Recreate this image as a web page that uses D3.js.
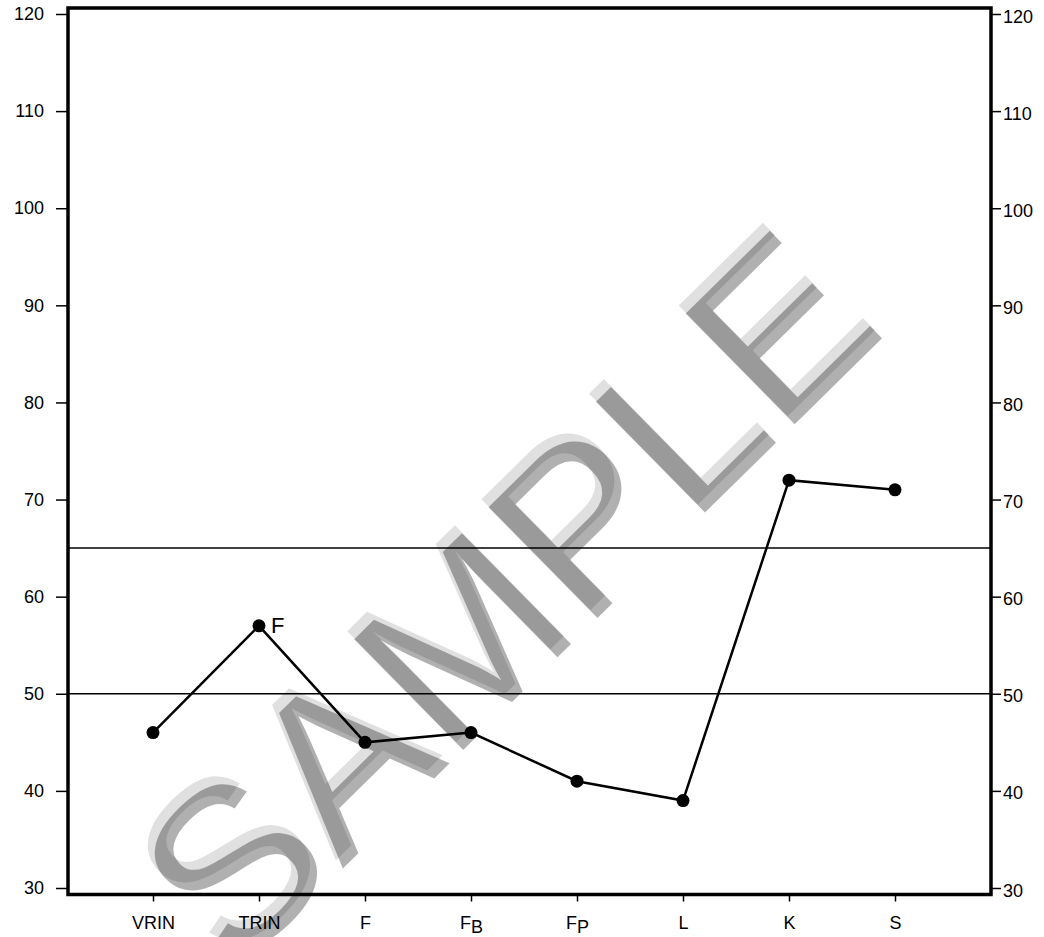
<!DOCTYPE html>
<html>
<head>
<meta charset="utf-8">
<script src="https://cdn.jsdelivr.net/npm/d3@7"></script>
<style>
  body { margin: 0; background: #fff; }
  svg { display: block; font-family: "Liberation Sans", Arial, Helvetica, sans-serif; }
</style>
</head>
<body>
<div id="chart"></div>
<script>
// scale names, label subscripts and scores
const scales = ["VRIN", "TRIN", "F", "FB", "FP", "L", "K", "S"]
const labelMain = ["VRIN", "TRIN", "F", "F", "F", "L", "K", "S"]
const labelSub = ["", "", "", "B", "P", "", "", ""]
const scores = [46, 57, 45, 46, 41, 39, 72, 71]
const yTicks = [30, 40, 50, 60, 70, 80, 90, 100, 110, 120]
const refLines = [65, 50]
const flagged = [{ scale: "TRIN", text: "F" }]

const width = 1044
const height = 937
const frame = { left: 68, right: 991, top: 8, bottom: 894.5 }

const svg = d3.select("#chart")
    .append("svg")
    .attr("width", width)
    .attr("height", height)

const x = d3.scalePoint()
    .domain(scales)
    .range([153, 895])

const y = d3.scaleLinear()
    .domain([30, 120])
    .range([888, 14])

// reference lines
svg.selectAll(".ref")
    .data(refLines)
    .join("line")
    .attr("x1", frame.left)
    .attr("x2", frame.right)
    .attr("y1", d => y(d))
    .attr("y2", d => y(d))
    .attr("stroke", "#000")
    .attr("stroke-width", 1.5)

// profile line and points
const line = d3.line()
    .x((d, i) => x(scales[i]))
    .y(d => y(d))

svg.append("path")
    .datum(scores)
    .attr("d", line)
    .attr("fill", "none")
    .attr("stroke", "#000")
    .attr("stroke-width", 2.5)

svg.selectAll(".pt")
    .data(scores)
    .join("circle")
    .attr("cx", (d, i) => x(scales[i]))
    .attr("cy", d => y(d))
    .attr("r", 6.5)
    .attr("fill", "#000")

svg.selectAll(".flag")
    .data(flagged)
    .join("text")
    .attr("x", d => x(d.scale) + 12)
    .attr("y", d => y(scores[scales.indexOf(d.scale)]) + 7)
    .attr("font-size", 22)
    .text(d => d.text)

// axes
const left = svg.append("g")
    .attr("transform", `translate(${frame.left},0)`)
    .call(d3.axisLeft(y).tickValues(yTicks).tickSize(12).tickPadding(12))

const right = svg.append("g")
    .attr("transform", `translate(${frame.right},0)`)
    .call(d3.axisRight(y).tickValues(yTicks).tickSize(10).tickPadding(2))
right.selectAll("text").attr("dy", "0.45em")

const bottom = svg.append("g")
    .attr("transform", `translate(0,${frame.bottom})`)
    .call(d3.axisBottom(x).tickSize(7).tickPadding(15).tickFormat(""))

bottom.selectAll(".tick text").each(function (d, i) {
    const t = d3.select(this)
    t.text(labelMain[i])
    if (labelSub[i]) {
        t.append("tspan").attr("dy", 4).text(labelSub[i])
    }
})

for (const g of [left, right, bottom]) {
    g.select(".domain").remove()
    g.selectAll("line").attr("stroke", "#000").attr("stroke-width", 1.5)
    g.selectAll("text")
        .attr("font-size", 18)
        .attr("fill", "#000")
        .attr("font-family", "Liberation Sans, Arial, Helvetica, sans-serif")
}

// frame
svg.append("rect")
    .attr("x", frame.left)
    .attr("y", frame.top)
    .attr("width", frame.right - frame.left)
    .attr("height", frame.bottom - frame.top)
    .attr("fill", "none")
    .attr("stroke", "#000")
    .attr("stroke-width", 3.5)

// watermark
const marks = [
    { dx: -7, dy: -8, opacity: 0.12 },
    { dx: 0, dy: 0, opacity: 0.31 }
]
svg.selectAll(".wm")
    .data(marks)
    .join("text")
    .attr("transform", d => `translate(${562 + d.dx},${653 + d.dy}) rotate(-44.5)`)
    .attr("text-anchor", "middle")
    .attr("font-size", 226)
    .attr("fill", "#000")
    .attr("fill-opacity", d => d.opacity)
    .text("SAMPLE")
</script>
</body>
</html>
